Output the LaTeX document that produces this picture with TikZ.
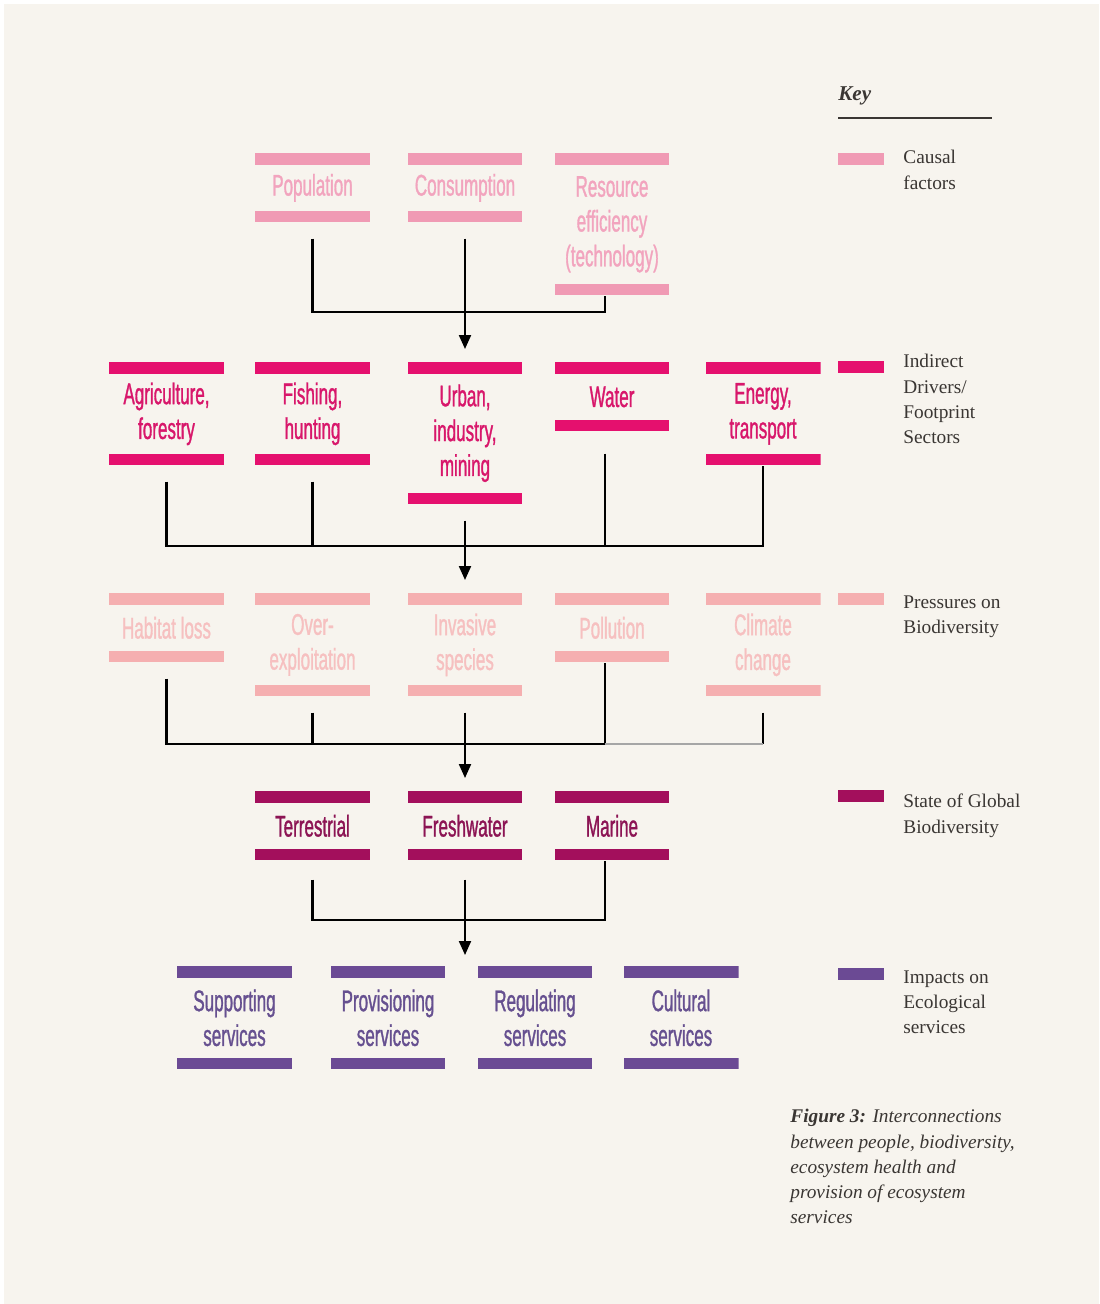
\documentclass[tikz,border=0pt]{standalone}
\usepackage{fontspec}
\setmainfont{Liberation Serif}
\newfontfamily\sectorfont[FakeStretch=0.57, FakeBold=1]{Liberation Sans}
\usetikzlibrary{arrows.meta,calc}

\definecolor{paper}{HTML}{F7F4EE}
\definecolor{keyink}{HTML}{3A3633}
\definecolor{causalbar}{HTML}{F09AB4}
\definecolor{causaltext}{HTML}{F2A4BE}
\definecolor{driverbar}{HTML}{E5106E}
\definecolor{drivertext}{HTML}{D8176B}
\definecolor{pressbar}{HTML}{F5AFB0}
\definecolor{presstext}{HTML}{F6C0C0}
\definecolor{statebar}{HTML}{A30F5C}
\definecolor{statetext}{HTML}{8C1454}
\definecolor{impactbar}{HTML}{6B4A94}
\definecolor{impacttext}{HTML}{665090}

\begin{document}
\begin{tikzpicture}[
  x=0.02cm, y=-0.02cm,
  bars/.style={path picture={
    \fill[#1] (path picture bounding box.north west) rectangle ([yshift=-0.23cm]path picture bounding box.north east);
    \fill[#1] (path picture bounding box.south west) rectangle ([yshift=0.23cm]path picture bounding box.south east);}},
  sector/.style={rectangle, anchor=north, inner sep=0pt, minimum width=2.3cm, text width=2.3cm, align=flush center,
    font=\sectorfont\fontsize{17}{19.8}\selectfont},
  h1/.style={minimum height=1.38cm},
  h2/.style={minimum height=2.06cm},
  h3/.style={minimum height=2.84cm},
  causal/.style={sector, bars=causalbar, text=causaltext},
  driver/.style={sector, bars=driverbar, text=drivertext},
  press/.style={sector, bars=pressbar, text=presstext},
  state/.style={sector, bars=statebar, text=statetext},
  impact/.style={sector, bars=impactbar, text=impacttext},
  link/.style={line width=1.2pt, shorten <=0.32cm},
  arrow/.style={link, shorten >=0.26cm, -{Triangle[length=0.28cm, width=0.24cm]}},
  keybar/.style={rectangle, fill=#1, minimum width=0.92cm, minimum height=0.24cm, inner sep=0pt},
  keytext/.style={anchor=north west, inner sep=0pt, align=left, text=keyink, font=\fontsize{11}{14.4}\selectfont}
]

% paper
\fill[white] (0,0) rectangle (1099,1304);
\fill[paper] (4,4) rectangle (1099,1304);

% Causal factors
\node[causal, h1] (pop) at (312.5,153) {Population};
\node[causal, h1] (cons) at (465,153) {Consumption};
\node[causal, h3] (res) at (612,153) {Resource\\efficiency\\(technology)};

% Indirect drivers / footprint sectors
\node[driver, h2] (agri) at (166.5,362) {Agriculture,\\forestry};
\node[driver, h2] (fish) at (312.5,362) {Fishing,\\hunting};
\node[driver, h3] (urban) at (465,362) {Urban,\\industry,\\mining};
\node[driver, h1] (water) at (612,362) {Water};
\node[driver, h2] (energy) at (763,362) {Energy,\\transport};

% Pressures on biodiversity
\node[press, h1] (habitat) at (166.5,593) {Habitat loss};
\node[press, h2] (overex) at (312.5,593) {Over-\\exploitation};
\node[press, h2] (invasive) at (465,593) {Invasive\\species};
\node[press, h1] (pollution) at (612,593) {Pollution};
\node[press, h2] (climate) at (763,593) {Climate\\change};

% State of global biodiversity
\node[state, h1] (terr) at (312.5,791) {Terrestrial};
\node[state, h1] (fresh) at (465,791) {Freshwater};
\node[state, h1] (marine) at (612,791) {Marine};

% Impacts on ecological services
\node[impact, h2] (supp) at (234.5,966) {Supporting\\services};
\node[impact, h2] (prov) at (388,966) {Provisioning\\services};
\node[impact, h2] (reg) at (535,966) {Regulating\\services};
\node[impact, h2] (cult) at (681,966) {Cultural\\services};

% Buses
\coordinate (bus1) at (465,312);
\coordinate (bus2) at (465,546);
\coordinate (bus3) at (465,744);
\coordinate (bus4) at (465,920);
\coordinate (svc) at (465,966);

% Connectors
\draw[link] (pop.south) |- (bus1) -| ([xshift=-0.14cm]res.south);
\draw[arrow] (cons.south) -- (urban.north);

\draw[link] (agri.south) |- (bus2) -| (energy.south);
\draw[link] (fish.south) -- (fish.south |- bus2);
\draw[link, shorten <=0.44cm] ([xshift=-0.14cm]water.south) -- ([xshift=-0.14cm]water.south |- bus2);
\draw[arrow] (urban.south) -- (invasive.north);

\draw[link] (habitat.south) |- (bus3) -| ([xshift=-0.14cm]pollution.south);
\draw[link] (overex.south) -- (overex.south |- bus3);
\draw[link] (climate.south) -- (climate.south |- bus3);
\draw[line width=1.2pt, gray!70] (climate.south |- bus3) -- ([xshift=-0.14cm]pollution.south |- bus3);
\draw[arrow] (invasive.south) -- (fresh.north);

\draw[link, shorten <=0.38cm] (terr.south) |- (bus4) -| ([xshift=-0.14cm]marine.south);
\draw[arrow, shorten <=0.38cm, shorten >=0.22cm] (fresh.south) -- (svc);

% Key
\node[anchor=base west, inner sep=0pt, text=keyink, font=\fontsize{12}{14}\selectfont\bfseries\itshape] (key) at (838,101) {Key};
\draw[line width=1.2pt, keyink] (838,118) -- (992,118);

\node[keybar=causalbar] (kcausal) at (861,159) {};
\node[keytext] (tcausal) at (903,150) {Causal\\factors};
\node[keybar=driverbar] (kdriver) at (861,366.5) {};
\node[keytext] (tdriver) at (903,354) {Indirect\\Drivers/\\Footprint\\Sectors};
\node[keybar=pressbar] (kpress) at (861,599) {};
\node[keytext] (tpress) at (903,595) {Pressures on\\Biodiversity};
\node[keybar=statebar] (kstate) at (861,795.5) {};
\node[keytext] (tstate) at (903,794) {State of Global\\Biodiversity};
\node[keybar=impactbar] (kimpact) at (861,974) {};
\node[keytext] (timpact) at (903,970) {Impacts on\\Ecological\\services};

% Caption
\node[keytext, font=\fontsize{11}{14.4}\selectfont\itshape] (caption) at (790,1109)
  {\textbf{Figure 3:} Interconnections\\between people, biodiversity,\\ecosystem health and\\provision of ecosystem\\services};

\end{tikzpicture}
\end{document}
